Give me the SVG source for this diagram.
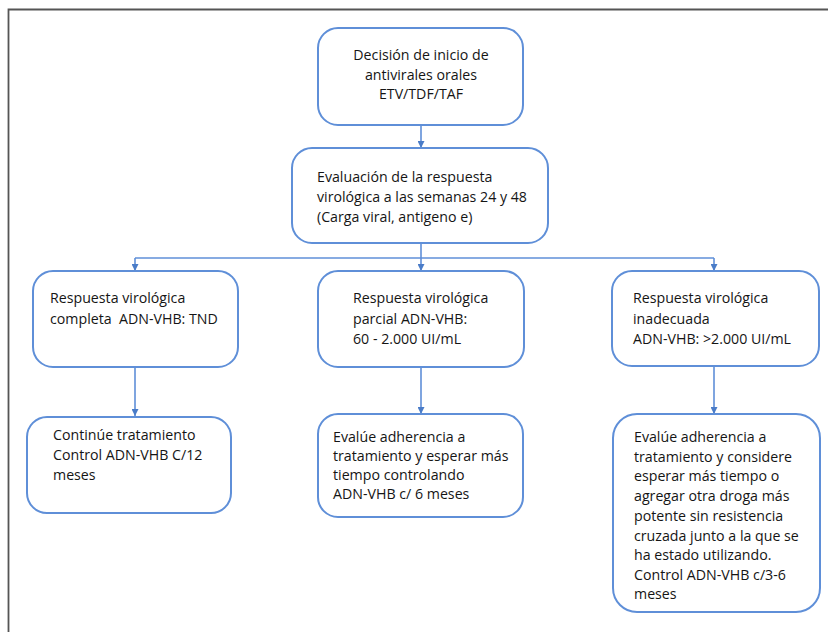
<svg xmlns="http://www.w3.org/2000/svg" width="828" height="632" viewBox="0 0 828 632">
<style>
.box{fill:#fff;stroke:#5f8fd8;stroke-width:2}
.t{font-family:"Open Sans","Liberation Sans",sans-serif;font-size:14.2px;fill:#151515}
.c{fill:none;stroke:#5f8fd8;stroke-width:1.6}
</style>
<defs>
<marker id="ah" viewBox="0 0 10 10" refX="10" refY="5" markerWidth="7" markerHeight="7" markerUnits="userSpaceOnUse" orient="auto">
<path d="M0,0 L10,5 L0,10 z" fill="#4a7cc8"/>
</marker>
</defs>
<rect width="828" height="632" fill="#fff"/>
<path d="M8.5,632 V9.5 H828" fill="none" stroke="#555" stroke-width="1.8"/>
<g id="connectors">
<path class="c" d="M421,125 V148" marker-end="url(#ah)"/>
<path class="c" d="M421,243 V271" marker-end="url(#ah)"/>
<path class="c" d="M135,258 H714"/>
<path class="c" d="M135,258 V271" marker-end="url(#ah)"/>
<path class="c" d="M714,258 V271" marker-end="url(#ah)"/>
<path class="c" d="M135,367 V416" marker-end="url(#ah)"/>
<path class="c" d="M421,367 V414" marker-end="url(#ah)"/>
<path class="c" d="M714,366 V414" marker-end="url(#ah)"/>
</g>
<g id="n1">
<rect class="box" x="318" y="28" width="205" height="97" rx="20"/>
<text class="t" text-anchor="middle"><tspan x="421" y="60">Decisión de inicio de</tspan><tspan x="421" y="80">antivirales orales</tspan><tspan x="421" y="99">ETV/TDF/TAF</tspan></text>
</g>
<g id="n2">
<rect class="box" x="292" y="148" width="256" height="95" rx="20"/>
<text class="t"><tspan x="317" y="182">Evaluación de la respuesta</tspan><tspan x="317" y="202">virológica a las semanas 24 y 48</tspan><tspan x="317" y="222">(Carga viral, antigeno e)</tspan></text>
</g>
<g id="n3">
<rect class="box" x="33" y="271" width="205" height="96" rx="20"/>
<text class="t"><tspan x="50" y="303">Respuesta virológica</tspan><tspan x="50" y="324">completa&#160; ADN-VHB: TND</tspan></text>
</g>
<g id="n4">
<rect class="box" x="318" y="271" width="206" height="96" rx="20"/>
<text class="t"><tspan x="353" y="303">Respuesta virológica</tspan><tspan x="353" y="324">parcial ADN-VHB:</tspan><tspan x="353" y="344">60 - 2.000 UI/mL</tspan></text>
</g>
<g id="n5">
<rect class="box" x="612" y="271" width="207" height="95" rx="20"/>
<text class="t"><tspan x="633" y="303">Respuesta virológica</tspan><tspan x="633" y="324">inadecuada</tspan><tspan x="633" y="344">ADN-VHB: &gt;2.000 UI/mL</tspan></text>
</g>
<g id="n6">
<rect class="box" x="27" y="417" width="204" height="96" rx="20"/>
<text class="t"><tspan x="53" y="440">Continúe tratamiento</tspan><tspan x="53" y="460">Control ADN-VHB C/12</tspan><tspan x="53" y="480">meses</tspan></text>
</g>
<g id="n7">
<rect class="box" x="318" y="414" width="205" height="103" rx="20"/>
<text class="t"><tspan x="333" y="442">Evalúe adherencia a</tspan><tspan x="333" y="461">tratamiento y esperar más</tspan><tspan x="333" y="480">tiempo controlando</tspan><tspan x="333" y="499">ADN-VHB c/ 6 meses</tspan></text>
</g>
<g id="n8">
<rect class="box" x="613" y="414" width="207" height="198" rx="24"/>
<text class="t"><tspan x="634" y="442">Evalúe adherencia a</tspan><tspan x="634" y="462">tratamiento y considere</tspan><tspan x="634" y="481">esperar más tiempo o</tspan><tspan x="634" y="501">agregar otra droga más</tspan><tspan x="634" y="521">potente sin resistencia</tspan><tspan x="634" y="541">cruzada junto a la que se</tspan><tspan x="634" y="560">ha estado utilizando.</tspan><tspan x="634" y="580">Control ADN-VHB c/3-6</tspan><tspan x="634" y="599">meses</tspan></text>
</g>
</svg>
